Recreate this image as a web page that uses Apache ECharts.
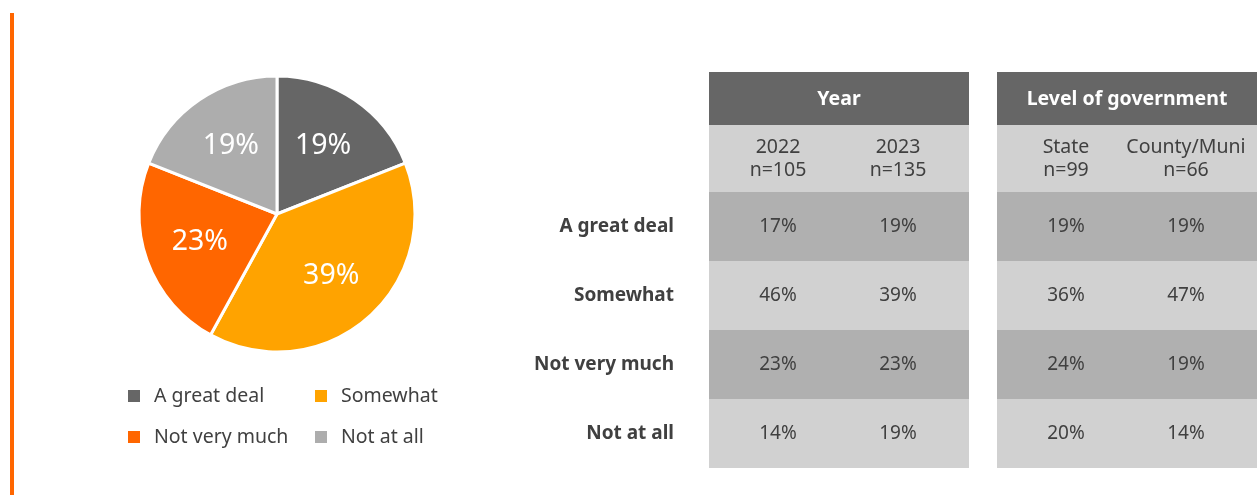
<!DOCTYPE html>
<html>
<head>
<meta charset="utf-8">
<script src="https://cdn.jsdelivr.net/npm/echarts@6/dist/echarts.min.js"></script>
<style>
  html, body { margin: 0; padding: 0; background: #ffffff; }
  #chart { width: 1260px; height: 495px; }
</style>
</head>
<body>
<div id="chart"></div>
<script>
// Response categories and overall shares (%)
const categories = ['A great deal', 'Somewhat', 'Not very much', 'Not at all'];
const overallShare = [19, 39, 23, 19];

// Breakdown tables
const groupTitles = ['Year', 'Level of government'];
const yearColumns = ['2022\nn=105', '2023\nn=135'];
const govColumns = ['State\nn=99', 'County/Muni\nn=66'];
const year2022 = [17, 46, 23, 14];
const year2023 = [19, 39, 23, 19];
const stateLevel = [19, 36, 24, 20];
const countyMuni = [19, 47, 19, 14];

const sliceColors = ['#666666', '#ffa300', '#ff6600', '#adadad'];
const FONT = '"Noto Sans"';
const TEXT = '#404040';

const chart = echarts.init(document.getElementById('chart'), null, { renderer: 'canvas' });

const pieData = categories.map((name, i) => ({
  name, value: overallShare[i], itemStyle: { color: sliceColors[i] }
}));

function tableData(colA, colB) {
  const out = [];
  categories.forEach((_, r) => {
    out.push([0, r, colA[r]]);
    out.push([1, r, colB[r]]);
  });
  return out;
}

function makeRenderer(title, columns) {
  return function (params, api) {
    const cs = params.coordSys;
    const c = api.value(0);
    const r = api.value(1);
    const v = api.value(2);
    const pt = api.coord([c, r]);
    const h = api.size([0, 1])[1];
    const children = [];
    if (c === 0) {
      children.push({
        type: 'rect',
        shape: { x: cs.x, y: pt[1] - h / 2, width: cs.width, height: h },
        style: { fill: r % 2 === 0 ? '#b0b0b0' : '#d1d1d1' }
      });
    }
    if (r === 0) {
      if (c === 0) {
        children.push({
          type: 'rect',
          shape: { x: cs.x, y: cs.y - 120, width: cs.width, height: 53 },
          style: { fill: '#666666' }
        });
        children.push({
          type: 'text',
          style: {
            x: cs.x + cs.width / 2, y: cs.y - 93, text: title,
            fill: '#ffffff', font: 'bold 19.5px ' + FONT,
            align: 'center', verticalAlign: 'middle'
          }
        });
        children.push({
          type: 'rect',
          shape: { x: cs.x, y: cs.y - 67, width: cs.width, height: 67 },
          style: { fill: '#d1d1d1' }
        });
      }
      children.push({
        type: 'text',
        style: {
          x: pt[0], y: cs.y - 33, text: columns[c],
          fill: TEXT, font: '19.5px ' + FONT, lineHeight: 23,
          align: 'center', verticalAlign: 'middle'
        }
      });
    }
    children.push({
      type: 'text',
      style: {
        x: pt[0], y: pt[1], text: v + '%',
        fill: TEXT, font: '19px ' + FONT,
        align: 'center', verticalAlign: 'middle'
      }
    });
    return { type: 'group', children };
  };
}

const legendText = { fontFamily: FONT, fontSize: 19.5, color: TEXT, lineHeight: 20, padding: [0, 0, 0, 8] };

chart.setOption({
  animation: false,
  graphic: [{
    type: 'rect', shape: { x: 10, y: 13, width: 4, height: 482 },
    style: { fill: '#ff6600' }
  }],
  legend: [
    {
      orient: 'vertical', left: 126, top: 386, padding: 0,
      itemWidth: 14, itemHeight: 14, itemGap: 21,
      icon: 'rect', selectedMode: false, textStyle: legendText,
      data: [
        { name: categories[0], itemStyle: { color: sliceColors[0] } },
        { name: categories[2], itemStyle: { color: sliceColors[2] } }
      ]
    },
    {
      orient: 'vertical', left: 313, top: 386, padding: 0,
      itemWidth: 14, itemHeight: 14, itemGap: 21,
      icon: 'rect', selectedMode: false, textStyle: legendText,
      data: [
        { name: categories[1], itemStyle: { color: sliceColors[1] } },
        { name: categories[3], itemStyle: { color: sliceColors[3] } }
      ]
    }
  ],
  grid: [
    { left: 709, top: 192, width: 260, height: 276 },
    { left: 997, top: 192, width: 260, height: 276 }
  ],
  xAxis: [
    { gridIndex: 0, type: 'value', min: -0.575, max: 1.592, show: false },
    { gridIndex: 1, type: 'value', min: -0.575, max: 1.592, show: false }
  ],
  yAxis: [
    {
      gridIndex: 0, type: 'category', data: categories, inverse: true,
      axisLine: { show: false }, axisTick: { show: false }, splitLine: { show: false },
      axisLabel: { margin: 35, fontFamily: FONT, fontSize: 19, fontWeight: 'bold', color: TEXT }
    },
    {
      gridIndex: 1, type: 'category', data: categories, inverse: true,
      axisLine: { show: false }, axisTick: { show: false }, axisLabel: { show: false }, splitLine: { show: false }
    }
  ],
  series: [
    {
      type: 'pie', center: [277, 214], radius: 138, startAngle: 90, clockwise: true,
      silent: true, data: pieData,
      itemStyle: { borderColor: '#ffffff', borderWidth: 3 },
      label: { show: false }, labelLine: { show: false }
    },
    {
      // wider transparent ring that carries the percentage labels
      type: 'pie', center: [277, 214], radius: 158, startAngle: 90, clockwise: true,
      silent: true, legendHoverLink: false,
      data: pieData.map(d => ({ name: d.name, value: d.value, itemStyle: { color: 'rgba(0,0,0,0)' } })),
      label: {
        show: true, position: 'inside', formatter: '{c}%',
        fontFamily: FONT, fontSize: 28.5, color: '#ffffff'
      },
      labelLine: { show: false }
    },
    {
      type: 'custom', xAxisIndex: 0, yAxisIndex: 0, silent: true,
      renderItem: makeRenderer(groupTitles[0], yearColumns),
      data: tableData(year2022, year2023)
    },
    {
      type: 'custom', xAxisIndex: 1, yAxisIndex: 1, silent: true,
      renderItem: makeRenderer(groupTitles[1], govColumns),
      data: tableData(stateLevel, countyMuni)
    }
  ]
});
</script>
</body>
</html>
